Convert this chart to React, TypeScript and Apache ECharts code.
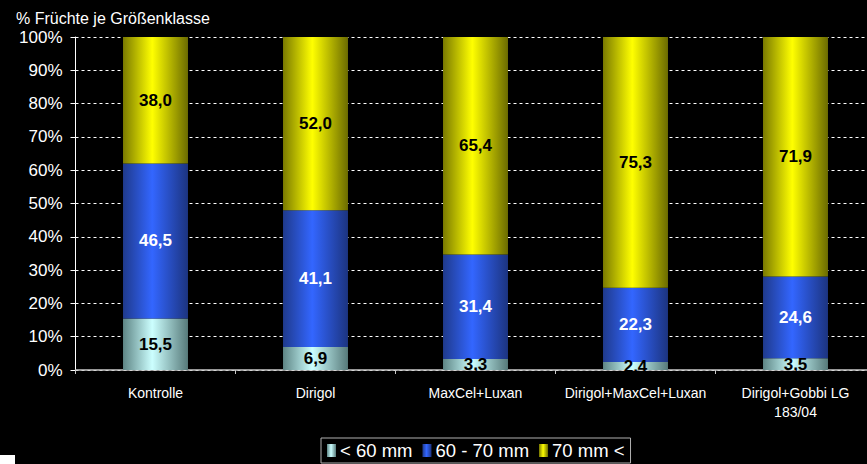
import React, { useEffect, useRef } from "react";
import * as echarts from "echarts";

const categories = ["Kontrolle", "Dirigol", "MaxCel+Luxan", "Dirigol+MaxCel+Luxan", "Dirigol+Gobbi LG\n183/04"];
const seriesNames = ["< 60 mm", "60 - 70 mm", "70 mm <"];
const small = [15.5, 6.9, 3.3, 2.4, 3.5];
const medium = [46.5, 41.1, 31.4, 22.3, 24.6];
const large = [38.0, 52.0, 65.4, 75.3, 71.9];
const yTicks = [0, 10, 20, 30, 40, 50, 60, 70, 80, 90, 100];

const FONT = "Liberation Sans, Arial, sans-serif";

const grad = (edge: string, mid: string, edge2: string) =>
  new echarts.graphic.LinearGradient(0, 0, 1, 0, [
    { offset: 0, color: edge },
    { offset: 0.45, color: mid },
    { offset: 1, color: edge2 },
  ]);

export default function App() {
  const ref = useRef<HTMLDivElement>(null);
  useEffect(() => {
    document.body.style.margin = "0";
    document.body.style.background = "#000";
    const chart = echarts.init(ref.current!, null, { renderer: "svg" });
    const fmt = (p: any) => Number(p.value).toFixed(1).replace(".", ",");
    const label = (color: string) => ({
      show: true,
      position: "inside",
      formatter: fmt,
      color,
      fontSize: 17,
      fontWeight: "bold",
      fontFamily: FONT,
    });
    const data = [small, medium, large];
    const colors = [
      grad("#5e8585", "#ccffff", "#577a7a"),
      grad("#1f3a8c", "#3366ff", "#1c3480"),
      grad("#7a7a00", "#ffff00", "#6b6b00"),
    ];
    const labelColors = ["#000", "#fff", "#000"];
    chart.setOption({
      animation: false,
      backgroundColor: "#000",
      textStyle: { fontFamily: FONT },
      title: {
        text: "% Früchte je Größenklasse",
        left: 11,
        top: 5,
        textStyle: { color: "#fff", fontSize: 16, fontWeight: "normal", fontFamily: FONT },
      },
      grid: { left: 75.5, right: -8.5, top: 37, bottom: 94, outerBoundsMode: "none", containLabel: false },
      legend: {
        bottom: 1,
        left: 321,
        data: seriesNames,
        itemWidth: 9,
        itemHeight: 13,
        itemGap: 10,
        padding: [3, 6, 3, 6],
        borderColor: "#b0b0b0",
        borderWidth: 1,
        textStyle: { color: "#fff", fontSize: 18.5, fontFamily: FONT, padding: [0, 0, 0, -1] },
        icon: "rect",
      },
      xAxis: {
        type: "category",
        data: categories,
        axisLine: { lineStyle: { color: "#c8c8c8", width: 1.5 } },
        axisTick: { show: true, length: 4, lineStyle: { color: "#c8c8c8" } },
        axisLabel: { color: "#fff", fontSize: 14, margin: 13, lineHeight: 19, interval: 0 },
      },
      yAxis: {
        type: "value",
        min: 0,
        max: 100,
        interval: 10,
        axisLine: { show: true, lineStyle: { color: "#fff", width: 1 } },
        axisTick: { show: true, length: 5, lineStyle: { color: "#fff" } },
        axisLabel: {
          color: "#fff",
          fontSize: 17,
          margin: 13,
          formatter: (v: number) => (yTicks.includes(v) ? v + "%" : ""),
        },
        splitLine: { show: true, lineStyle: { color: "#fff", type: [3, 3], width: 1 } },
      },
      series: seriesNames.map((name, i) => ({
        name,
        type: "bar",
        stack: "total",
        barWidth: "40.6%",
        data: data[i],
        itemStyle: { color: colors[i] },
        label: label(labelColors[i]),
      })),
      graphic: [
        { type: "rect", left: 0, top: 455, shape: { width: 15, height: 9 }, style: { fill: "#fff" } },
      ],
    });
    return () => chart.dispose();
  }, []);
  return (
    <div
      ref={ref}
      style={{ position: "absolute", left: 0, top: 0, width: 867, height: 464, background: "#000" }}
    />
  );
}
